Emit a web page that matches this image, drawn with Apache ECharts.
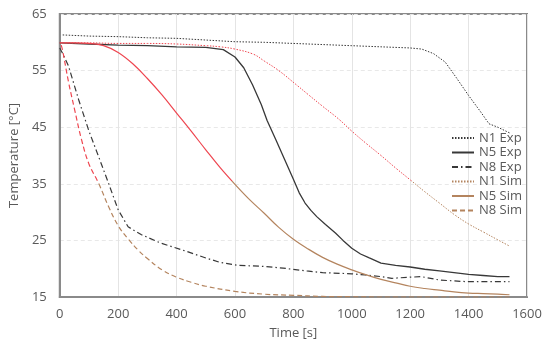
<!DOCTYPE html>
<html>
<head>
<meta charset="utf-8">
<script src="https://cdn.jsdelivr.net/npm/echarts@6/dist/echarts.min.js"></script>
<style>
html,body{margin:0;padding:0;background:#fff;}
#c{width:550px;height:346px;}
</style>
</head>
<body>
<div id="c"></div>
<script>
// ---- data (time [s], temperature [°C]) ----
var seriesNames = ["N1 Exp", "N5 Exp", "N8 Exp", "N1 Sim", "N5 Sim", "N8 Sim"];
var xTicks = [0, 200, 400, 600, 800, 1000, 1200, 1400, 1600];
var yTicks = [15, 25, 35, 45, 55, 65];

var n1ExpT = [10, 100, 200, 300, 400, 500, 600, 700, 800, 900, 1000, 1100, 1200, 1240, 1280, 1320, 1360, 1400, 1440, 1470, 1500, 1540];
var n1ExpV = [61.3, 61.1, 61.0, 60.8, 60.7, 60.4, 60.1, 60.0, 59.8, 59.6, 59.4, 59.2, 59.0, 58.8, 58.0, 56.5, 53.6, 50.6, 47.8, 45.6, 45.0, 44.0];

var n5ExpT = [0, 100, 200, 300, 400, 500, 560, 600, 630, 660, 690, 710, 740, 770, 800, 820, 840, 860, 880, 910, 944, 970, 1000, 1030, 1060, 1100, 1150, 1200, 1250, 1300, 1350, 1400, 1450, 1500, 1540];
var n5ExpV = [59.9, 59.7, 59.5, 59.4, 59.2, 59.1, 58.7, 57.4, 55.5, 52.5, 49.0, 46.2, 42.8, 39.3, 35.8, 33.4, 31.6, 30.3, 29.2, 27.8, 26.3, 25.0, 23.6, 22.6, 21.9, 21.0, 20.6, 20.3, 19.9, 19.6, 19.3, 19.0, 18.8, 18.6, 18.6];

var n8ExpT = [0, 10, 30, 65, 100, 133, 167, 200, 234, 280, 347, 426, 500, 550, 609, 700, 765, 846, 900, 1000, 1046, 1100, 1137, 1200, 1238, 1300, 1396, 1540];
var n8ExpV = [59.0, 58.0, 55.8, 49.8, 44.3, 39.8, 35.1, 30.4, 27.4, 26.0, 24.5, 23.2, 21.9, 21.1, 20.6, 20.4, 20.1, 19.6, 19.3, 19.1, 18.9, 18.6, 18.3, 18.5, 18.6, 18.0, 17.7, 17.7];

var n1SimT = [0, 100, 200, 300, 400, 500, 550, 600, 663, 700, 750, 810, 850, 900, 956, 1000, 1050, 1100, 1150, 1200, 1250, 1300, 1350, 1400, 1450, 1500, 1540];
var n1SimV = [59.9, 59.9, 59.8, 59.8, 59.7, 59.4, 59.2, 58.8, 57.9, 56.7, 55.0, 52.5, 50.8, 48.7, 46.4, 44.3, 42.1, 40.0, 37.8, 35.7, 33.6, 31.6, 29.6, 27.9, 26.5, 25.1, 24.0];

var n5SimT = [0, 50, 100, 150, 200, 250, 300, 350, 400, 450, 500, 550, 600, 650, 700, 750, 800, 850, 900, 950, 1000, 1050, 1100, 1150, 1200, 1250, 1300, 1350, 1400, 1450, 1500, 1540];
var n5SimV = [59.9, 59.9, 59.8, 59.4, 58.2, 56.2, 53.6, 50.7, 47.5, 44.3, 41.0, 37.8, 34.9, 32.2, 29.8, 27.3, 25.2, 23.5, 22.0, 20.8, 19.8, 18.9, 18.1, 17.5, 16.9, 16.5, 16.2, 15.9, 15.7, 15.6, 15.5, 15.4];

var n8SimT = [5, 10, 30, 50, 75, 100, 133, 167, 200, 235, 270, 300, 350, 400, 450, 500, 600, 700, 800, 900, 1000, 1100, 1540];
var n8SimV = [59.5, 58.5, 53.0, 48.3, 42.7, 38.5, 35.1, 31.0, 27.6, 25.2, 23.2, 21.8, 19.8, 18.5, 17.6, 16.9, 16.0, 15.5, 15.3, 15.1, 15.05, 15.0, 15.0];

function pairs(t, v) { return t.map(function (x, i) { return [x, v[i]]; }); }

var dark = '#383838';
var red = '#ee4650';
var brown = '#b4845e';
var txt = '#595959';
var font = 'Open Sans';

var chart = echarts.init(document.getElementById('c'), null, { renderer: 'canvas' });

function mk(name, t, v, color, type, width, smooth, setLineColor) {
  var ls = { width: width, type: type };
  if (setLineColor) ls.color = color;
  return {
    name: name, type: 'line', data: pairs(t, v), showSymbol: false, symbol: 'none',
    smooth: smooth, color: color,
    lineStyle: ls,
    animation: false
  };
}

chart.setOption({
  animation: false,
  grid: { left: 54, right: 23, top: 14, bottom: 49, show: true, borderColor: '#8a8a8a', borderWidth: 2, containLabel: false },
  visualMap: {
    show: false, type: 'piecewise', seriesIndex: [3, 4, 5], dimension: 1,
    pieces: [{ min: 35.5, max: 70, color: red }, { min: 0, max: 35.5, color: brown }]
  },
  legend: {
    orient: 'vertical', left: 451, top: 131, padding: 0,
    itemWidth: 22, itemHeight: 8, itemGap: 0.5,
    itemStyle: { opacity: 0 },
    textStyle: { color: txt, fontSize: 13, fontFamily: font, lineHeight: 14 },
    data: seriesNames
  },
  xAxis: {
    type: 'value', min: 0, max: 1600, interval: 200,
    name: 'Time [s]', nameLocation: 'middle', nameGap: 30,
    nameTextStyle: { color: txt, fontSize: 13, fontFamily: font },
    axisLine: { show: true, lineStyle: { color: '#8a8a8a', width: 2 } },
    axisTick: { show: false },
    axisLabel: { color: txt, fontSize: 13, fontFamily: font, margin: 11, formatter: function (v) { return String(v); } },
    splitLine: { show: true, lineStyle: { color: '#e4e4e4', width: 1 } }
  },
  yAxis: {
    type: 'value', min: 15, max: 65, interval: 10,
    name: 'Temperature [°C]', nameLocation: 'middle', nameGap: 31,
    nameTextStyle: { color: txt, fontSize: 13, fontFamily: font },
    axisLine: { show: true, lineStyle: { color: '#8a8a8a', width: 2 } },
    axisTick: { show: false },
    axisLabel: { color: txt, fontSize: 13, fontFamily: font, margin: 13, formatter: function (v) { return String(v); } },
    splitLine: { show: true, lineStyle: { color: '#e8e8e8', width: 1, type: [4, 3] } }
  },
  series: [
    mk('N1 Exp', n1ExpT, n1ExpV, dark, [1.5, 1.5], 1, false, true),
    mk('N5 Exp', n5ExpT, n5ExpV, dark, 'solid', 1.3, false, true),
    mk('N8 Exp', n8ExpT, n8ExpV, dark, [6, 3, 1.5, 3], 1.2, false, true),
    mk('N1 Sim', n1SimT, n1SimV, brown, [1.5, 1.5], 1, 0.4, false),
    mk('N5 Sim', n5SimT, n5SimV, brown, 'solid', 1.2, 0.4, false),
    mk('N8 Sim', n8SimT, n8SimV, brown, [5, 3], 1.2, 0.4, false)
  ]
});
</script>
</body>
</html>
